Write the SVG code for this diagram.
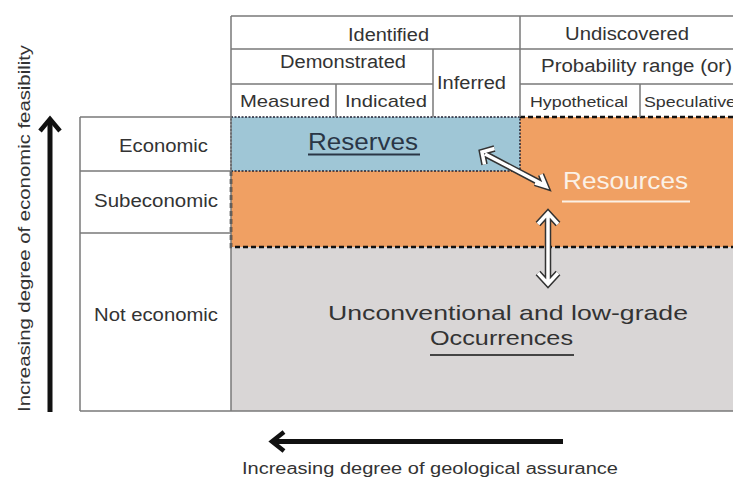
<svg xmlns="http://www.w3.org/2000/svg" width="733" height="478" viewBox="0 0 733 478">
<style>
.t{font-family:"Liberation Sans",Arial,sans-serif;fill:#333;}
.grid{stroke:#7a7a7a;stroke-width:1.5;fill:none;}
.bigarrow{stroke:#111;stroke-width:5;fill:none;stroke-linecap:butt;}
.bighead{stroke:#111;stroke-width:4.5;fill:none;stroke-linejoin:miter;}
.wo{stroke:#333;stroke-width:6.5;fill:none;stroke-linejoin:miter;}
.wi{stroke:#fff;stroke-width:3.5;fill:none;stroke-linejoin:miter;}
</style>
<rect width="733" height="478" fill="#fff"/>

<g id="regions">
<rect id="occurrences-area" x="231" y="247" width="502" height="164" fill="#d9d6d6"/>
<path id="resources-area" d="M231 171H520V117H733V247H231Z" fill="#f0a063"/>
<rect id="reserves-area" x="231" y="117" width="289" height="54" fill="#9fc6d6"/>
<path d="M520 117H733M231 171V247H733" stroke="#111" stroke-width="2.5" stroke-dasharray="5 3" fill="none"/>
<rect x="231" y="117" width="289" height="54" stroke="#223" stroke-width="1.5" stroke-dasharray="2 1.5" fill="none"/>
</g>

<g id="grid">
<path class="grid" d="M231 16H733M231 49H733M231 84H433M520 84H733M80 117H231M80 171H231M80 233H231M80 411H733M80 117V411M231 16V411M336 84V117M433 49V117M520 16V117M640 84V117"/>
</g>

<g id="header">
<text class="t" x="348" y="41" font-size="18" textLength="81" lengthAdjust="spacingAndGlyphs">Identified</text>
<text class="t" x="565" y="39.5" font-size="18" textLength="124" lengthAdjust="spacingAndGlyphs">Undiscovered</text>
<text class="t" x="280" y="67.5" font-size="18" textLength="126" lengthAdjust="spacingAndGlyphs">Demonstrated</text>
<text class="t" x="541" y="72" font-size="18" textLength="191" lengthAdjust="spacingAndGlyphs">Probability range (or)</text>
<text class="t" x="437" y="89" font-size="18" textLength="69" lengthAdjust="spacingAndGlyphs">Inferred</text>
<text class="t" x="240" y="107" font-size="17" textLength="90" lengthAdjust="spacingAndGlyphs">Measured</text>
<text class="t" x="345" y="107" font-size="17" textLength="82" lengthAdjust="spacingAndGlyphs">Indicated</text>
<text class="t" x="530" y="107" font-size="15.5" textLength="98" lengthAdjust="spacingAndGlyphs">Hypothetical</text>
<text class="t" x="644" y="107" font-size="15.5" textLength="92" lengthAdjust="spacingAndGlyphs">Speculative</text>
</g>

<g id="rows">
<text class="t" x="119" y="151.5" font-size="18" textLength="89" lengthAdjust="spacingAndGlyphs">Economic</text>
<text class="t" x="94" y="206.5" font-size="18" textLength="124" lengthAdjust="spacingAndGlyphs">Subeconomic</text>
<text class="t" x="94" y="320.5" font-size="18" textLength="124" lengthAdjust="spacingAndGlyphs">Not economic</text>
</g>

<g id="reserves">
<text class="t" x="308" y="150" font-size="23" style="fill:#2a3646" textLength="110" lengthAdjust="spacingAndGlyphs">Reserves</text>
<line x1="308" y1="154.5" x2="420" y2="154.5" stroke="#2a3646" stroke-width="2"/>
</g>

<g id="resources">
<text class="t" x="563" y="188.5" font-size="24" style="fill:#fbf1e6" textLength="125" lengthAdjust="spacingAndGlyphs">Resources</text>
<line x1="562" y1="201.5" x2="690" y2="201.5" stroke="#fbf1e6" stroke-width="2"/>
</g>

<g id="occurrences">
<text class="t" x="328" y="319.5" font-size="21" textLength="360" lengthAdjust="spacingAndGlyphs">Unconventional and low-grade</text>
<text class="t" x="430" y="344.5" font-size="21" textLength="143" lengthAdjust="spacingAndGlyphs">Occurrences</text>
<line x1="430" y1="355" x2="574" y2="355" stroke="#444" stroke-width="2"/>
</g>

<g id="connectors">
<g id="reserves-resources">
<path class="wo" d="M485 154L544 185M484.5 164.5L482 152L494.5 148.5M535 183L546 186.5L541 174.5"/>
<path class="wi" d="M485 154L544 185M484.5 164.5L482 152L494.5 148.5M535 183L546 186.5L541 174.5"/>
</g>
<g id="resources-occurrences">
<path class="wo" d="M548 214V283M538 224L548 213L558 224M538 273L548 284L558 273"/>
<path class="wi" d="M548 214V283M538 224L548 213L558 224M538 273L548 284L558 273"/>
</g>
<g id="axes">
<path class="bigarrow" d="M50 412V121"/>
<path class="bighead" d="M40 131L50 119L60 131"/>
<path class="bigarrow" d="M563 441.5H274"/>
<path class="bighead" d="M284 432L272 441.5L284 451"/>
</g>
</g>

<g id="axis-labels">
<text class="t" x="242" y="474" font-size="16" textLength="376" lengthAdjust="spacingAndGlyphs">Increasing degree of geological assurance</text>
<text class="t" transform="translate(29.5 412) rotate(-90)" x="0" y="0" font-size="16" textLength="367" lengthAdjust="spacingAndGlyphs">Increasing degree of economic feasibility</text>
</g>
</svg>
